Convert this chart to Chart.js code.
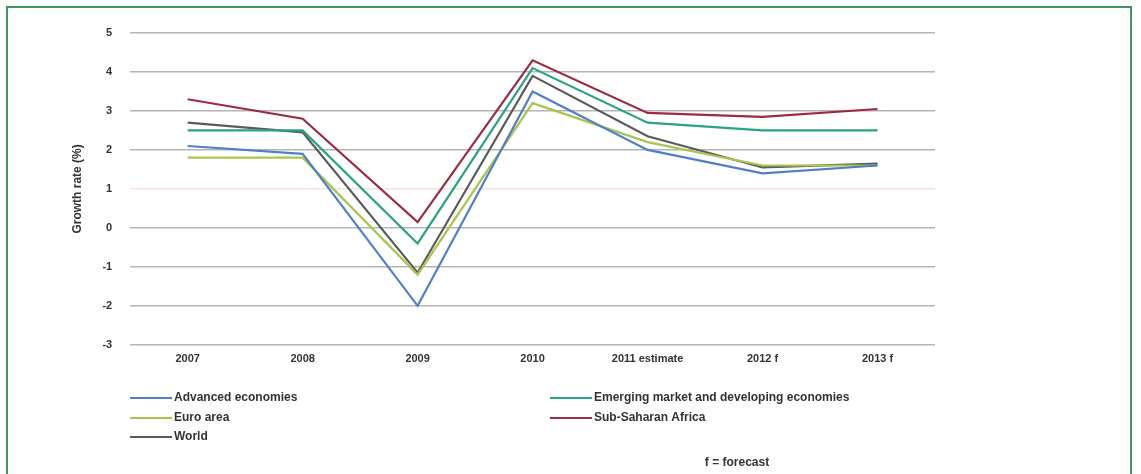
<!DOCTYPE html>
<html>
<head>
<meta charset="utf-8">
<script src="https://cdn.jsdelivr.net/npm/chart.js@4/dist/chart.umd.min.js"></script>
<style>
  html, body { margin: 0; padding: 0; background: #ffffff; }
  #wrap { position: relative; width: 1141px; height: 474px; overflow: hidden; }
  #frame { position: absolute; left: 6px; top: 6px; width: 1126px; height: 480px;
           border: 2px solid #3f9466; box-sizing: border-box; }
  canvas { position: absolute; left: 0; top: 0; }
</style>
</head>
<body>
<div id="wrap">
  <div id="frame"></div>
  <canvas id="c" width="1141" height="474"></canvas>
</div>
<script>
// Real GDP growth, per cent
const years = ['2007', '2008', '2009', '2010', '2011 estimate', '2012 f', '2013 f'];
const advanced = [2.1, 1.9, -2.0, 3.5, 2.0, 1.4, 1.6];
const emerging = [2.5, 2.5, -0.4, 4.1, 2.7, 2.5, 2.5];
const euroArea = [1.8, 1.8, -1.2, 3.2, 2.2, 1.6, 1.6];
const subSaharan = [3.3, 2.8, 0.15, 4.3, 2.95, 2.85, 3.05];
const world = [2.7, 2.45, -1.15, 3.9, 2.35, 1.55, 1.65];
const yTicks = [5, 4, 3, 2, 1, 0, -1, -2, -3];
const footNote = 'f = forecast';

const mk = (label, data, color) => ({
  label, data, borderColor: color, backgroundColor: color,
  borderWidth: 2.2, pointRadius: 0, tension: 0, fill: false
});

const datasets = [
  mk('Advanced economies', advanced, '#4f7fc6'),
  mk('Emerging market and developing economies', emerging, '#2aa386'),
  mk('Euro area', euroArea, '#a9c64c'),
  mk('Sub-Saharan Africa', subSaharan, '#9a2c43'),
  mk('World', world, '#5a5a5a')
];

// Two-column legend and footnote under the plot
const bottomLegend = {
  id: 'bottomLegend',
  afterDraw(chart) {
    const ctx = chart.ctx;
    const cols = [130, 550];
    const rows = [398, 418, 437];
    ctx.save();
    ctx.font = 'bold 12px "Liberation Sans", Arial, sans-serif';
    ctx.textBaseline = 'middle';
    chart.data.datasets.forEach((ds, i) => {
      const x = cols[i % 2];
      const y = rows[Math.floor(i / 2)];
      ctx.strokeStyle = ds.borderColor;
      ctx.lineWidth = 2;
      ctx.beginPath();
      ctx.moveTo(x, y);
      ctx.lineTo(x + 42, y);
      ctx.stroke();
      ctx.fillStyle = '#333333';
      ctx.textAlign = 'left';
      ctx.fillText(ds.label, x + 44, y);
    });
    ctx.textAlign = 'center';
    ctx.fillText(footNote, 737, 463);
    ctx.restore();
  }
};

new Chart(document.getElementById('c'), {
  type: 'line',
  data: { labels: years, datasets },
  plugins: [bottomLegend],
  options: {
    responsive: false,
    animation: false,
    layout: { padding: { left: 70, right: 206, top: 33, bottom: 100 } },
    plugins: { legend: { display: false }, tooltip: { enabled: false } },
    scales: {
      x: {
        offset: true,
        grid: { display: false, drawTicks: false },
        border: { display: false },
        ticks: { color: '#333', padding: 8,
                 font: { family: 'Liberation Sans', size: 11, weight: 'bold' } }
      },
      y: {
        min: -3, max: 5,
        afterBuildTicks(axis) { axis.ticks = yTicks.map(v => ({ value: v })); },
        grid: {
          drawTicks: false,
          lineWidth: 1.6,
          color: c => c.tick && c.tick.value === 1 ? 'rgba(236,196,200,0.55)' : '#b4b4b4'
        },
        border: { display: false },
        ticks: { color: '#333', padding: 18,
                 font: { family: 'Liberation Sans', size: 11, weight: 'bold' } },
        title: { display: true, text: 'Growth rate (%)', color: '#333', padding: 0,
                 font: { family: 'Liberation Sans', size: 12, weight: 'bold' } }
      }
    }
  }
});
</script>
</body>
</html>
